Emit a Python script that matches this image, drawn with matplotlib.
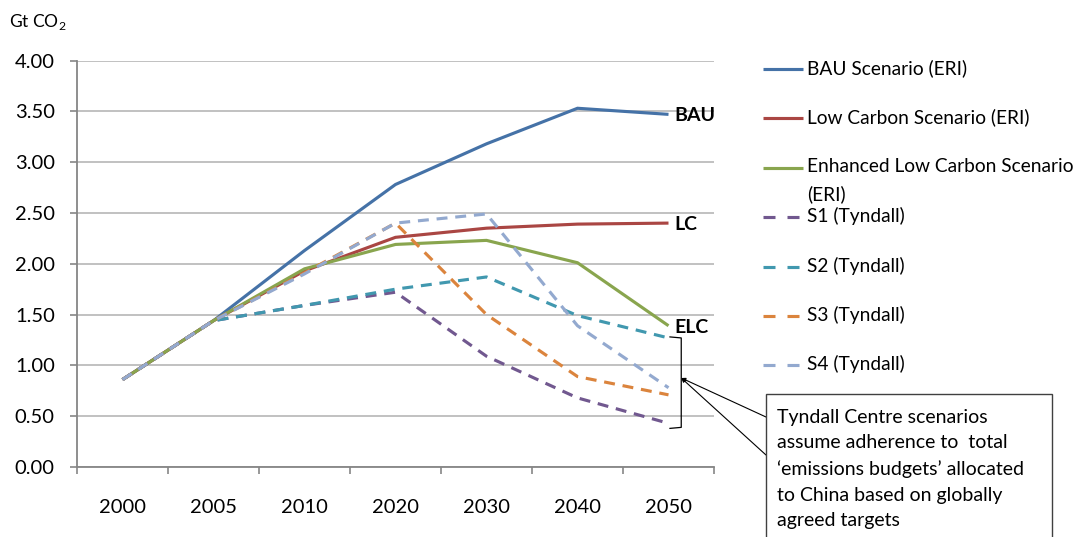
import numpy as np
import matplotlib
matplotlib.use("Agg")
import matplotlib.pyplot as plt
import matplotlib.patches as patches
import matplotlib.lines as mlines

plt.rcParams['font.family'] = ['Lato', 'DejaVu Sans']

years = ['2000', '2005', '2010', '2020', '2030', '2040', '2050']

bau = [0.86, 1.44, 2.13, 2.78, 3.18, 3.53, 3.47]
low_carbon = [0.86, 1.44, 1.93, 2.26, 2.35, 2.39, 2.40]
enhanced_lc = [0.86, 1.44, 1.95, 2.19, 2.23, 2.01, 1.39]
s1 = [0.86, 1.44, 1.59, 1.72, 1.09, 0.68, 0.43]
s2 = [0.86, 1.44, 1.59, 1.75, 1.87, 1.49, 1.27]
s3 = [0.86, 1.44, 1.91, 2.40, 1.50, 0.89, 0.71]
s4 = [0.86, 1.44, 1.90, 2.40, 2.49, 1.39, 0.78]

labels = ['BAU Scenario (ERI)', 'Low Carbon Scenario (ERI)',
          'Enhanced Low Carbon Scenario\n(ERI)',
          'S1 (Tyndall)', 'S2 (Tyndall)', 'S3 (Tyndall)', 'S4 (Tyndall)']
end_tags = ['BAU', 'LC', 'ELC', None, None, None, None]

series = [bau, low_carbon, enhanced_lc, s1, s2, s3, s4]
colors = ['#4572A7', '#AA4643', '#89A54E', '#71588F', '#4198AF', '#DB843D', '#93A9CF']
dashed = [False, False, False, True, True, True, True]

W, H = 1088, 537
fig = plt.figure(figsize=(W / 100, H / 100), dpi=100)

def fx(px):
    return px / W

def fy(py):
    return 1 - py / H

ax = fig.add_axes([fx(77), fy(467), fx(714) - fx(77), fy(60.5) - fy(467)])

x = np.arange(len(years))
lw = 2.25
for vals, col, dsh, tag in zip(series, colors, dashed, end_tags):
    line, = ax.plot(x, vals, color=col, lw=lw, solid_joinstyle='miter',
                    solid_capstyle='butt', zorder=3)
    if dsh:
        line.set_dashes((3.5, 2.5))
        line.set_dash_capstyle('butt')
    if tag:
        ax.annotate(tag, xy=(x[-1], vals[-1]), xytext=(4.5, -1),
                    textcoords='offset points', ha='left', va='center',
                    fontsize=14, fontweight='bold', annotation_clip=False)

ax.set_xlim(-0.5, len(years) - 0.5)
ax.set_ylim(0, 4)
ax.set_yticks(np.arange(0, 4.01, 0.5))
ax.set_yticklabels([f'{v:.2f}' for v in np.arange(0, 4.01, 0.5)], fontsize=14.5)
ax.set_xticks(x)
ax.set_xticklabels(years, fontsize=14.5)
ax.set_xticks(np.arange(-0.5, len(years), 1), minor=True)
ax.tick_params(axis='x', which='major', length=0, pad=23)
ax.tick_params(axis='x', which='minor', length=5, color='#868686', width=1.2)
ax.tick_params(axis='y', length=5, color='#868686', width=1.2, pad=11)

ax.grid(axis='y', color='#B0B0B0', lw=1.1)
ax.set_axisbelow(True)
for side in ['top', 'right']:
    ax.spines[side].set_visible(False)
for side in ['left', 'bottom']:
    ax.spines[side].set_color('#868686')
    ax.spines[side].set_linewidth(1.3)

fig.text(fx(9), fy(22), r'Gt CO$_\mathregular{2}$', fontsize=12.5, va='center', ha='left')

# legend drawn by hand so the wrapped entry keeps its handle on the first line
row0, step = 69, 49.4
for i, (lab, col, dsh) in enumerate(zip(labels, colors, dashed)):
    yy = row0 + i * step
    if dsh:
        h = mlines.Line2D([fx(763), fx(799)], [fy(yy), fy(yy)], color=col, lw=lw,
                          transform=fig.transFigure)
        h.set_dashes((3.84, 3.84))
        h.set_dash_capstyle('butt')
    else:
        h = mlines.Line2D([fx(763), fx(803)], [fy(yy), fy(yy)], color=col, lw=lw,
                          solid_capstyle='butt', transform=fig.transFigure)
    fig.add_artist(h)
    fig.text(fx(807), fy(yy - 10), lab, fontsize=13.8, ha='left', va='top',
             linespacing=1.72)

# bracket around the Tyndall end values, with callout
bx0, bx1 = 6.016, 6.14
ax.plot([bx0, bx1, bx1, bx0], [1.28, 1.27, 0.39, 0.38], color='black', lw=0.9,
        clip_on=False, zorder=4)
tip = (bx1, 0.876)
for py in (417, 455):
    ax.annotate('', xy=tip, xytext=(fx(766), fy(py)), textcoords='figure fraction',
                arrowprops=dict(arrowstyle='-|>', color='black', lw=0.8,
                                mutation_scale=6, shrinkA=0, shrinkB=0),
                annotation_clip=False)

box = patches.Rectangle((fx(766), -0.05), fx(1052) - fx(766), fy(394) + 0.05,
                        transform=fig.transFigure, facecolor='white',
                        edgecolor='#404040', lw=1.0)
fig.add_artist(box)
fig.text(fx(777), fy(409),
         'Tyndall Centre scenarios\nassume adherence to  total\n'
         '\u2018emissions budgets\u2019 allocated\nto China based on globally\n'
         'agreed targets',
         fontsize=14, ha='left', va='top', linespacing=1.6)

fig.savefig('out.png', dpi=100)
